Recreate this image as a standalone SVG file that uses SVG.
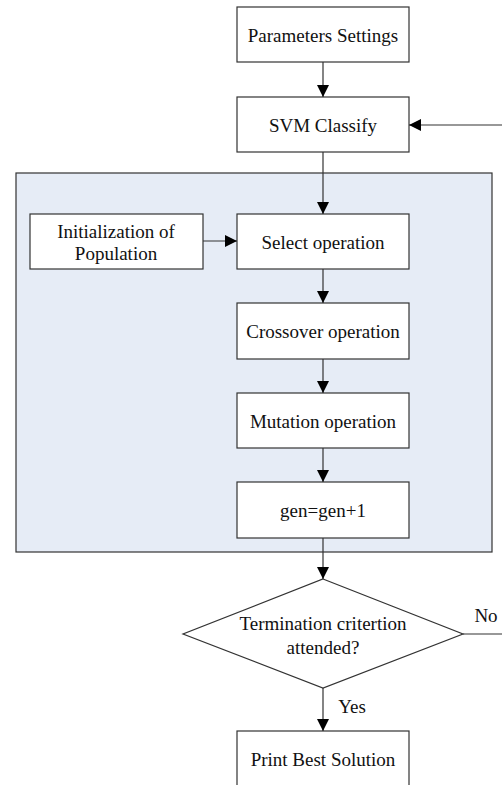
<svg xmlns="http://www.w3.org/2000/svg" width="502" height="785" viewBox="0 0 502 785">
<defs>
<style>
.box{fill:#fff;stroke:#333;stroke-width:1.2}
.panel{fill:#e6ecf6;stroke:#333;stroke-width:1.2}
.ln{fill:none;stroke:#333;stroke-width:1.2}
.t{font-family:'Liberation Serif','Times New Roman',Times,serif;font-size:19px;fill:#111;text-anchor:middle}
</style>
<marker id="ah" markerWidth="12" markerHeight="12" viewBox="0 0 12 12" refX="12" refY="6" orient="auto" markerUnits="userSpaceOnUse">
<path d="M0,0 L12,6 L0,12 Z" fill="#000"/>
</marker>
</defs>
<rect id="panel" class="panel" x="16" y="173" width="476" height="379"/>
<g id="n-params"><rect class="box" x="237" y="7" width="172" height="55"/><text class="t" x="323" y="42">Parameters Settings</text></g>
<g id="n-svm"><rect class="box" x="237" y="97" width="172" height="55"/><text class="t" x="323" y="132">SVM Classify</text></g>
<g id="n-init"><rect class="box" x="30" y="214" width="173" height="55"/><text class="t" x="116" y="238">Initialization of</text><text class="t" x="116" y="260">Population</text></g>
<g id="n-select"><rect class="box" x="237" y="214" width="172" height="55"/><text class="t" x="323" y="249">Select operation</text></g>
<g id="n-cross"><rect class="box" x="237" y="303" width="172" height="56"/><text class="t" x="323" y="338">Crossover operation</text></g>
<g id="n-mut"><rect class="box" x="237" y="393" width="172" height="55"/><text class="t" x="323" y="428">Mutation operation</text></g>
<g id="n-gen"><rect class="box" x="237" y="482" width="172" height="56"/><text class="t" x="323" y="517">gen=gen+1</text></g>
<g id="n-term"><polygon class="box" points="323,579 463,634 323,688 183,634"/><text class="t" x="323" y="630">Termination critertion</text><text class="t" x="323" y="654">attended?</text></g>
<g id="n-print"><rect class="box" x="237" y="731" width="172" height="60"/><text class="t" x="323" y="766">Print Best Solution</text></g>
<g id="connectors">
<line class="ln" x1="323" y1="62" x2="323" y2="97" marker-end="url(#ah)"/>
<line class="ln" x1="323" y1="152" x2="323" y2="214" marker-end="url(#ah)"/>
<line class="ln" x1="203" y1="241" x2="237" y2="241" marker-end="url(#ah)"/>
<line class="ln" x1="323" y1="269" x2="323" y2="303" marker-end="url(#ah)"/>
<line class="ln" x1="323" y1="359" x2="323" y2="393" marker-end="url(#ah)"/>
<line class="ln" x1="323" y1="448" x2="323" y2="482" marker-end="url(#ah)"/>
<line class="ln" x1="323" y1="538" x2="323" y2="579" marker-end="url(#ah)"/>
<line class="ln" x1="323" y1="688" x2="323" y2="731" marker-end="url(#ah)"/>
<line class="ln" x1="463" y1="634" x2="502" y2="634"/>
<line class="ln" x1="502" y1="125" x2="409" y2="125" marker-end="url(#ah)"/>
<text class="t" x="486" y="622">No</text>
<text class="t" x="352" y="713">Yes</text>
</g>
</svg>
